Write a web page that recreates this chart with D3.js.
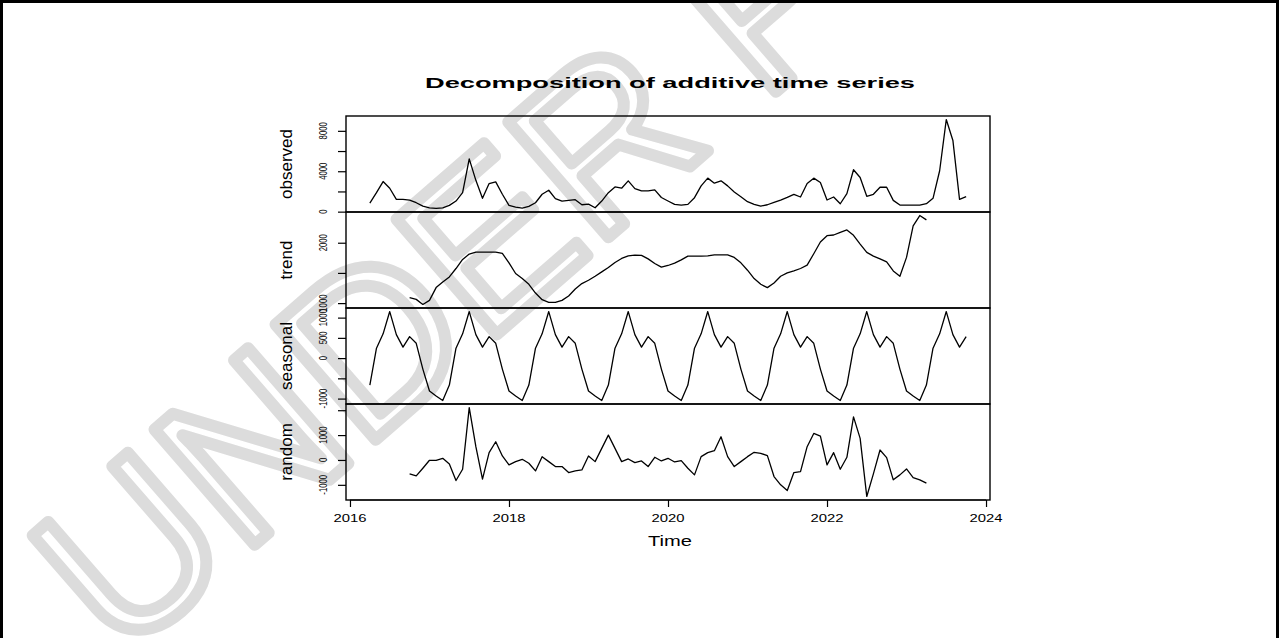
<!DOCTYPE html>
<html>
<head>
<meta charset="utf-8">
<script src="https://cdn.jsdelivr.net/npm/d3@7"></script>
<style>
  body { margin: 0; background: #fff; }
  svg { display: block; font-family: "Liberation Sans", Arial, sans-serif; }
</style>
</head>
<body>
<script>
// monthly series, Apr 2016 .. Oct 2023 (decompose() output)
const startYear = 2016, startMonth = 4;

const observed = [
  850, 1880, 2980, 2320, 1220, 1220, 1150, 883, 550,                 // 2016
  383, 317, 383, 617, 1050, 1880, 5220, 3100, 1320, 2780, 2950, 1720,  // 2017
  620, 450, 350, 517, 883, 1720, 2117, 1283, 1050, 1117, 1183, 683,    // 2018
  750, 383, 1050, 1880, 2450, 2320, 3050, 2280, 2050, 2050, 2150, 1400,// 2019
  1050, 717, 650, 717, 1383, 2550, 3317, 2817, 3050, 2550, 1950, 1483, // 2020
  983, 717, 550, 683, 917, 1150, 1417, 1717, 1450, 2783, 3317, 2883,   // 2021
  1150, 1450, 783, 1783, 4150, 3383, 1517, 1717, 2417, 2417, 1117, 650,// 2022
  650, 650, 650, 783, 1317, 4050, 9117, 7050, 1217, 1483               // 2023
];

const trend = [
  null, null, null, null, null, null, 1090, 1062, 978,
  1045, 1257, 1350, 1433, 1573, 1723, 1812, 1845, 1845, 1845, 1845, 1823,
  1667, 1490, 1407, 1312, 1167, 1057, 1012, 1012, 1045, 1117, 1233, 1323,
  1378, 1445, 1517, 1590, 1673, 1740, 1783, 1795, 1790, 1733, 1657, 1595,
  1623, 1662, 1717, 1778, 1778, 1778, 1783, 1800, 1800, 1800, 1757, 1667,
  1545, 1407, 1312, 1257, 1333, 1445, 1500, 1533, 1573, 1628, 1817, 2012,
  2117, 2128, 2173, 2212, 2123, 1978, 1840, 1778, 1733, 1683, 1533, 1445,
  1757, 2278, 2450, 2378, null, null, null, null, null, null
];

const seasonal = [
  -665, 245, 600, 1150, 579, 271, 530, 365, -271,
  -812, -937, -1046, -665, 245, 600, 1150, 579, 271, 530, 365, -271,
  -812, -937, -1046, -665, 245, 600, 1150, 579, 271, 530, 365, -271,
  -812, -937, -1046, -665, 245, 600, 1150, 579, 271, 530, 365, -271,
  -812, -937, -1046, -665, 245, 600, 1150, 579, 271, 530, 365, -271,
  -812, -937, -1046, -665, 245, 600, 1150, 579, 271, 530, 365, -271,
  -812, -937, -1046, -665, 245, 600, 1150, 579, 271, 530, 365, -271,
  -812, -937, -1046, -665, 245, 600, 1150, 579, 271, 530
];

const random = [
  null, null, null, null, null, null, -560, -640, -333,
  -13, -13, 67, -160, -827, -373, 2107, 533, -773, 293, 733, 160,
  -200, -67, 27, -133, -440, 133, -67, -267, -267, -507, -440, -400,
  160, -67, 467, 1000, 467, -67, 40, -107, -40, -267, 107, -40,
  67, -80, -27, -333, -600, 133, 293, 373, 933, 133, -267, -67,
  133, 307, 267, 173, -667, -1000, -1227, -507, -467, 533, 1067, 960,
  -200, 293, -373, 107, 1733, 867, -1467, -560, 400, 93, -800, -600,
  -360, -707, -800, -933, null, null, null, null, null, null
];

const panelNames = ["observed", "trend", "seasonal", "random"];
const xTicks = [2016, 2018, 2020, 2022, 2024];
const observedTicks = [0, 2000, 4000, 6000, 8000];
const observedLabels = ["0", "", "4000", "", "8000"];
const trendTicks = [1000, 1500, 2000];
const trendLabels = ["1000", "", "2000"];
const seasonalTicks = [-1000, -500, 0, 500, 1000];
const seasonalLabels = ["-1000", "", "0", "500", "1000"];
const randomTicks = [-1000, 0, 1000, 2000];
const randomLabels = ["-1000", "0", "1000", ""];

const title = "Decomposition of additive time series";
const xLabel = "Time";
const watermark = "UNDER PEER REVIEW";

const width = 1279, height = 638;
const plotLeft = 346, plotRight = 990, plotTop = 116, panelH = 96;

const time = i => startYear + (startMonth - 1 + i) / 12;

const svg = d3.select("body").append("svg")
  .attr("width", width)
  .attr("height", height);

// watermark behind the plot
svg.append("text")
  .attr("transform", "translate(120,662) rotate(-41)")
  .attr("font-size", 222)
  .attr("fill", "none")
  .attr("stroke", "#dcdcdc")
  .attr("stroke-width", 12)
  .attr("stroke-linejoin", "round")
  .text(watermark);

// frame round the figure
svg.append("path")
  .attr("d", "M1.5,640V1.5H1277.5V640")
  .attr("fill", "none")
  .attr("stroke", "#000")
  .attr("stroke-width", 3);

const tMin = time(0), tMax = time(observed.length - 1);
const tPad = (tMax - tMin) * 0.04;
const x = d3.scaleLinear()
  .domain([tMin - tPad, tMax + tPad])
  .range([plotLeft, plotRight]);

const panels = [
  { name: panelNames[0], values: observed, ticks: observedTicks, labels: observedLabels },
  { name: panelNames[1], values: trend, ticks: trendTicks, labels: trendLabels },
  { name: panelNames[2], values: seasonal, ticks: seasonalTicks, labels: seasonalLabels },
  { name: panelNames[3], values: random, ticks: randomTicks, labels: randomLabels }
];

panels.forEach((p, k) => {
  const y0 = plotTop + k * panelH;
  const ext = d3.extent(p.values.filter(v => v != null));
  const pad = (ext[1] - ext[0]) * 0.04;
  const y = d3.scaleLinear()
    .domain([ext[0] - pad, ext[1] + pad])
    .range([y0 + panelH, y0]);

  const g = svg.append("g");

  const line = d3.line()
    .defined(d => d != null)
    .x((d, i) => x(time(i)))
    .y(d => y(d));

  g.append("path")
    .datum(p.values)
    .attr("fill", "none")
    .attr("stroke", "#000")
    .attr("stroke-width", 1.3)
    .attr("stroke-linejoin", "round")
    .attr("d", line);

  const ax = g.append("g")
    .attr("transform", "translate(" + plotLeft + ",0)")
    .call(d3.axisLeft(y).tickValues(p.ticks).tickSize(8).tickFormat(""));
  ax.select(".domain").remove();
  ax.selectAll("line").attr("stroke", "#000").attr("stroke-width", 1.2);

  g.selectAll("text.ylab")
    .data(p.ticks.filter((t, i) => p.labels[i] !== ""))
    .enter().append("text")
    .attr("class", "ylab")
    .attr("transform", d => "translate(326.5," + y(d) + ") rotate(-90) scale(0.7,1)")
    .attr("text-anchor", "middle")
    .attr("font-size", 11)
    .text(d => p.labels[p.ticks.indexOf(d)]);

  g.append("text")
    .attr("transform", "translate(292," + (y0 + panelH / 2) + ") rotate(-90)")
    .attr("text-anchor", "middle")
    .attr("font-size", 17)
    .text(p.name);

  g.append("rect")
    .attr("x", plotLeft)
    .attr("y", y0)
    .attr("width", plotRight - plotLeft)
    .attr("height", panelH)
    .attr("fill", "none")
    .attr("stroke", "#000")
    .attr("stroke-width", 1.4);
});

// time axis under the last panel
const plotBottom = plotTop + 4 * panelH;
const xa = svg.append("g")
  .attr("transform", "translate(0," + plotBottom + ")")
  .call(d3.axisBottom(x).tickValues(xTicks).tickSize(7).tickFormat(""));
xa.select(".domain").attr("d", "M" + x(xTicks[0]) + ",0H" + x(xTicks[xTicks.length - 1]));
xa.selectAll("line, path").attr("stroke", "#000").attr("stroke-width", 1.2);

svg.selectAll("text.xlab")
  .data(xTicks)
  .enter().append("text")
  .attr("class", "xlab")
  .attr("x", d => x(d))
  .attr("y", 521.7)
  .attr("text-anchor", "middle")
  .attr("font-size", 10)
  .attr("textLength", 33)
  .attr("lengthAdjust", "spacingAndGlyphs")
  .text(d => d);

svg.append("text")
  .attr("x", 670)
  .attr("y", 546)
  .attr("text-anchor", "middle")
  .attr("font-size", 15)
  .attr("textLength", 44)
  .attr("lengthAdjust", "spacingAndGlyphs")
  .text(xLabel);

svg.append("text")
  .attr("x", 670)
  .attr("y", 87.5)
  .attr("text-anchor", "middle")
  .attr("font-size", 15)
  .attr("font-weight", "bold")
  .attr("textLength", 490)
  .attr("lengthAdjust", "spacingAndGlyphs")
  .text(title);
</script>
</body>
</html>
